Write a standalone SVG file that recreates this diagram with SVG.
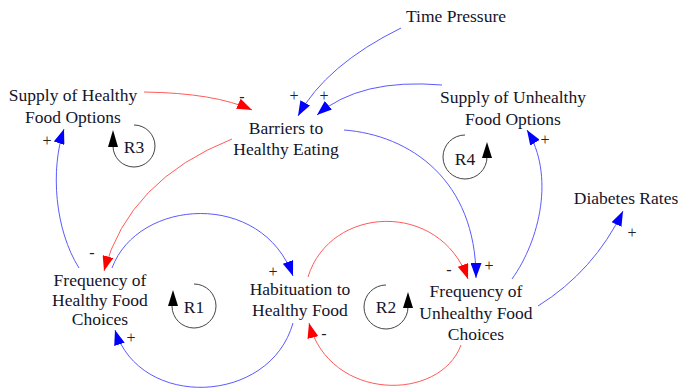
<svg xmlns="http://www.w3.org/2000/svg" width="685" height="389" viewBox="0 0 685 389">
<style>
.t{font-family:"Liberation Serif","Times New Roman",serif;font-size:17.5px;fill:#14142a;text-anchor:middle}
.s{font-family:"Liberation Serif","Times New Roman",serif;font-size:16px;fill:#222;text-anchor:middle}
.b{fill:none;stroke:#5a5aff;stroke-width:1}
.r{fill:none;stroke:#ff5a5a;stroke-width:1}
.l{fill:none;stroke:#444;stroke-width:1}
</style>
<defs>
<marker id="ab" viewBox="0 0 15 11" refX="15" refY="5.5" markerWidth="15" markerHeight="11" orient="auto" markerUnits="userSpaceOnUse"><path d="M0,0 L15,5.5 L0,11 z" fill="#0000ff"/></marker>
<marker id="ar" viewBox="0 0 15 11" refX="15" refY="5.5" markerWidth="15" markerHeight="11" orient="auto" markerUnits="userSpaceOnUse"><path d="M0,0 L15,5.5 L0,11 z" fill="#ff0000"/></marker>
</defs>
<rect width="685" height="389" fill="#ffffff"/>
<g id="connectors">
<path class="b" d="M401,28 Q326,65 298,116" marker-end="url(#ab)"/>
<path class="b" d="M442,85 Q360,78 317,115" marker-end="url(#ab)"/>
<path class="r" d="M144,92 Q215,93 252,110" marker-end="url(#ar)"/>
<path class="r" d="M232,139 Q129,180 104,271" marker-end="url(#ar)"/>
<path class="b" d="M344,130 C410,135 476,180 476,278" marker-end="url(#ab)"/>
<path class="b" d="M112,268 C138,198 262,190 293,276" marker-end="url(#ab)"/>
<path class="b" d="M293,323 C270,405 140,410 115,330" marker-end="url(#ab)"/>
<path class="r" d="M308,277 C330,205 440,200 468,279" marker-end="url(#ar)"/>
<path class="r" d="M461,345 C440,402 330,402 309,323" marker-end="url(#ar)"/>
<path class="b" d="M79,268 C55,230 50,170 64,129" marker-end="url(#ab)"/>
<path class="b" d="M512,279 C540,240 555,175 527,130" marker-end="url(#ab)"/>
<path class="b" d="M538,306 Q594,271 623,211" marker-end="url(#ab)"/>
</g>
<g id="signs">
<text class="s" x="294" y="101">+</text>
<text class="s" x="324" y="101">+</text>
<text class="s" x="242" y="102">-</text>
<text class="s" x="92" y="258">-</text>
<text class="s" x="489" y="271">+</text>
<text class="s" x="449" y="275">-</text>
<text class="s" x="273" y="277">+</text>
<text class="s" x="131" y="343">+</text>
<text class="s" x="324" y="339">-</text>
<text class="s" x="47" y="146">+</text>
<text class="s" x="545" y="145">+</text>
<text class="s" x="632" y="238">+</text>
</g>
<g id="time-pressure"><text class="t" x="456" y="22">Time Pressure</text></g>
<g id="supply-healthy"><text class="t" x="73" y="101">Supply of Healthy</text><text class="t" x="73" y="123">Food Options</text></g>
<g id="barriers"><text class="t" x="286" y="134">Barriers to</text><text class="t" x="286" y="155">Healthy Eating</text></g>
<g id="supply-unhealthy"><text class="t" x="513" y="103">Supply of Unhealthy</text><text class="t" x="513" y="125">Food Options</text></g>
<g id="diabetes"><text class="t" x="626" y="204">Diabetes Rates</text></g>
<g id="freq-healthy"><text class="t" x="100" y="286">Frequency of</text><text class="t" x="100" y="306">Healthy Food</text><text class="t" x="100" y="325">Choices</text></g>
<g id="habituation"><text class="t" x="300" y="295">Habituation to</text><text class="t" x="300" y="316">Healthy Food</text></g>
<g id="freq-unhealthy"><text class="t" x="476" y="297">Frequency of</text><text class="t" x="476" y="319">Unhealthy Food</text><text class="t" x="476" y="340">Choices</text></g>
<g id="loop-r3"><path class="l" d="M113,146 A21,21 0 1 0 134,125"/><path d="M113,130 L108,147 L118,147 z" fill="#000"/><text class="t" x="134" y="153">R3</text></g>
<g id="loop-r4"><path class="l" d="M487,157 A22,22 0 1 1 465,135"/><path d="M487,142 L482,158 L492,158 z" fill="#000"/><text class="t" x="465" y="165">R4</text></g>
<g id="loop-r1"><path class="l" d="M172,306 A22,22 0 1 0 194,284"/><path d="M173,290 L168,306 L178,306 z" fill="#000"/><text class="t" x="194" y="313">R1</text></g>
<g id="loop-r2"><path class="l" d="M408,307 A22,22 0 1 1 386,285"/><path d="M408,292 L403,308 L413,308 z" fill="#000"/><text class="t" x="386" y="313">R2</text></g>
</svg>
